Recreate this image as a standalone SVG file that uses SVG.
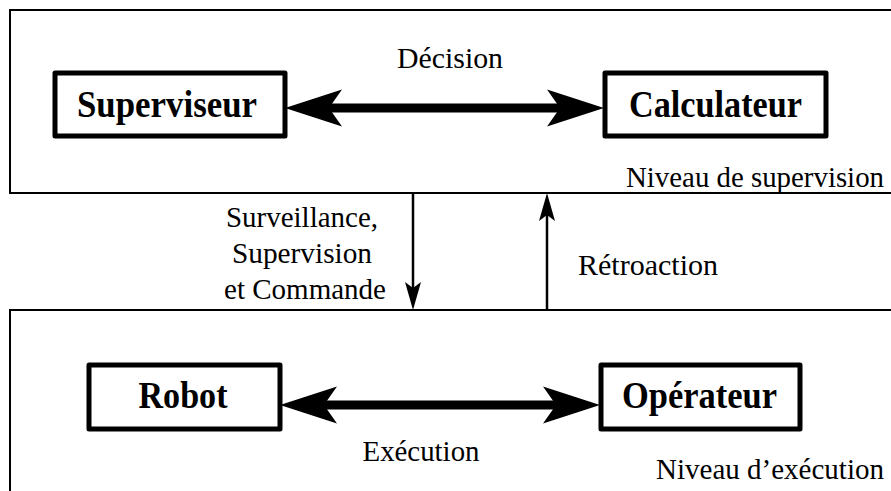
<svg xmlns="http://www.w3.org/2000/svg" width="891" height="491" viewBox="0 0 891 491">
<style>
.panel{fill:none;stroke:#000;stroke-width:2}
.box{fill:#fff;stroke:#000;stroke-width:5;stroke-linejoin:round}
.nlabel{font-family:"Liberation Serif","DejaVu Serif",serif;font-weight:bold;font-size:37px;fill:#000;text-anchor:middle}
.lbl{font-family:"Liberation Serif","DejaVu Serif",serif;font-size:29px;fill:#000}
.thick{stroke:#000;stroke-width:9;fill:none}
.thin{stroke:#000;stroke-width:2.5;fill:none}
.head{fill:#000;stroke:none}
</style>
<defs>
<path id="bighead" d="M0,0 L-57,-18.5 L-44,0 L-57,18.5 Z"/>
<path id="smallhead" d="M0,0 L-28,-8 L-22,0 L-28,8 Z"/>
</defs>
<rect width="891" height="491" fill="#fff"/>
<g id="panel-supervision">
<rect class="panel" x="10" y="10" width="900" height="183"/>
<text class="lbl" x="884" y="187" text-anchor="end" textLength="258" lengthAdjust="spacingAndGlyphs">Niveau de supervision</text>
</g>
<g id="panel-execution">
<rect class="panel" x="10" y="310" width="900" height="200"/>
<text class="lbl" x="884" y="479" text-anchor="end" textLength="228" lengthAdjust="spacingAndGlyphs">Niveau d’exécution</text>
</g>
<g id="node-superviseur">
<rect class="box" x="55" y="73" width="230" height="63"/>
<text class="nlabel" x="167" y="117" textLength="180" lengthAdjust="spacingAndGlyphs">Superviseur</text>
</g>
<g id="node-calculateur">
<rect class="box" x="605" y="73" width="221" height="63"/>
<text class="nlabel" x="715.5" y="117" textLength="173" lengthAdjust="spacingAndGlyphs">Calculateur</text>
</g>
<g id="node-robot">
<rect class="box" x="89" y="365" width="191" height="64"/>
<text class="nlabel" x="183" y="408" textLength="89" lengthAdjust="spacingAndGlyphs">Robot</text>
</g>
<g id="node-operateur">
<rect class="box" x="601" y="365" width="199" height="64"/>
<text class="nlabel" x="699.5" y="408" textLength="155" lengthAdjust="spacingAndGlyphs">Opérateur</text>
</g>
<g id="connectors">
<line class="thick" x1="320" y1="108" x2="570" y2="108"/>
<use href="#bighead" class="head" transform="translate(285,108) rotate(180)"/>
<use href="#bighead" class="head" transform="translate(604,108)"/>
<text class="lbl" x="450" y="68" text-anchor="middle" textLength="106" lengthAdjust="spacingAndGlyphs">Décision</text>
<line class="thick" x1="315" y1="405" x2="570" y2="405"/>
<use href="#bighead" class="head" transform="translate(280,405) rotate(180)"/>
<use href="#bighead" class="head" transform="translate(600,405)"/>
<text class="lbl" x="421" y="461" text-anchor="middle" textLength="117" lengthAdjust="spacingAndGlyphs">Exécution</text>
<line class="thin" x1="413" y1="193" x2="413" y2="292"/>
<use href="#smallhead" class="head" transform="translate(413,310) rotate(90)"/>
<line class="thin" x1="547" y1="310" x2="547" y2="212"/>
<use href="#smallhead" class="head" transform="translate(547,193) rotate(-90)"/>
<text class="lbl" x="302" y="227" text-anchor="middle" textLength="152" lengthAdjust="spacingAndGlyphs">Surveillance,</text>
<text class="lbl" x="302" y="263" text-anchor="middle" textLength="140" lengthAdjust="spacingAndGlyphs">Supervision</text>
<text class="lbl" x="305" y="299" text-anchor="middle" textLength="162" lengthAdjust="spacingAndGlyphs">et Commande</text>
<text class="lbl" x="578" y="275" textLength="140" lengthAdjust="spacingAndGlyphs">Rétroaction</text>
</g>
</svg>
